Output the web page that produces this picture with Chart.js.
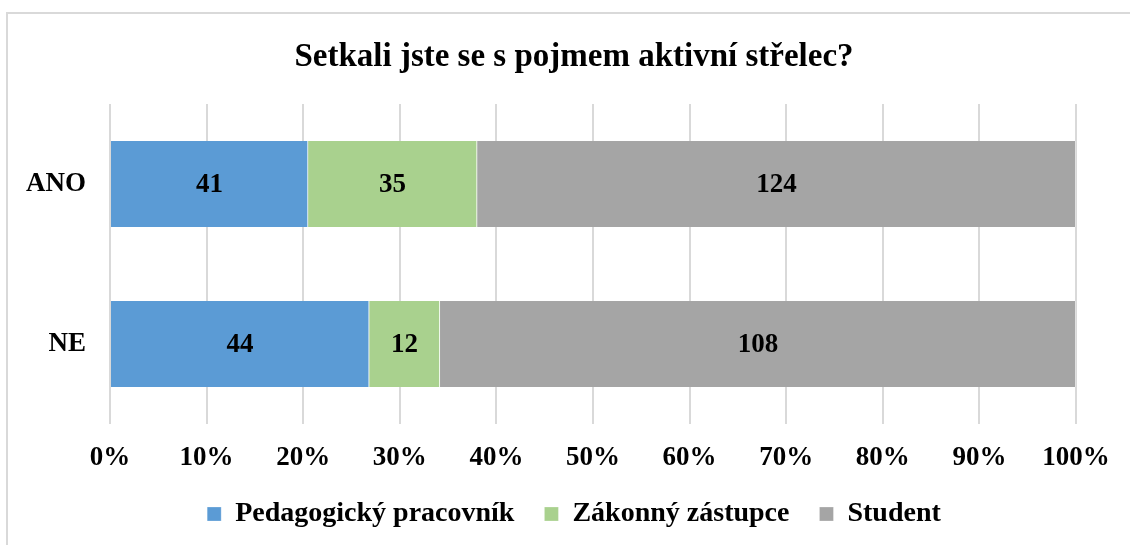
<!DOCTYPE html>
<html>
<head>
<meta charset="utf-8">
<script src="https://cdn.jsdelivr.net/npm/chart.js@4"></script>
<style>
    body { margin: 0; background: #fff; overflow: hidden; }
    #frame {
        position: absolute; left: 6px; top: 12px;
        width: 1200px; height: 600px;
        border-left: 2px solid #d9d9d9; border-top: 2px solid #d9d9d9;
    }
    #chart { position: absolute; left: 0; top: 0; }
</style>
</head>
<body>
<div id="frame"></div>
<canvas id="chart" width="1130" height="545"></canvas>
<script>
// Data
const categories = ['ANO', 'NE'];
const seriesNames = ['Pedagogický pracovník', 'Zákonný zástupce', 'Student'];
const pedagog = [41, 44];
const zastupce = [35, 12];
const student = [124, 108];
const xTicks = [0, 10, 20, 30, 40, 50, 60, 70, 80, 90, 100];

const colors = ['#5b9bd5', '#a9d18e', '#a5a5a5'];
const fontFamily = '"Liberation Serif", "Times New Roman", serif';
const labelFont = 'bold 27px ' + fontFamily;

const counts = [pedagog, zastupce, student];
const totals = categories.map((c, i) => counts.reduce((s, arr) => s + arr[i], 0));

const canvas = document.getElementById('chart');

// widest category label, so mirrored y labels can end 24px left of the plot
const measureCtx = canvas.getContext('2d');
measureCtx.font = labelFont;
const widestCat = Math.max(...categories.map(c => measureCtx.measureText(c).width));

// Draw the raw counts in the middle of each bar segment
const valueLabels = {
    id: 'valueLabels',
    afterDatasetsDraw(chart) {
        const ctx = chart.ctx;
        ctx.save();
        ctx.font = labelFont;
        ctx.fillStyle = '#000';
        ctx.textAlign = 'center';
        ctx.textBaseline = 'middle';
        chart.data.datasets.forEach((ds, di) => {
            const meta = chart.getDatasetMeta(di);
            meta.data.forEach((bar, i) => {
                const x = (bar.x + bar.base) / 2;
                ctx.fillText(String(ds.counts[i]), x, bar.y + 1);
            });
        });
        ctx.restore();
    }
};

new Chart(canvas, {
    type: 'bar',
    data: {
        labels: categories,
        datasets: seriesNames.map((name, k) => ({
            label: name,
            counts: counts[k],
            data: counts[k].map((v, i) => v / totals[i] * 100),
            backgroundColor: colors[k],
            borderColor: '#ffffff',
            borderWidth: { left: 0, right: 1, top: 0, bottom: 0 },
            borderSkipped: false,
            barThickness: 86
        }))
    },
    options: {
        indexAxis: 'y',
        responsive: false,
        animation: false,
        layout: { padding: { left: 72, right: 54, top: 0, bottom: 7 } },
        plugins: {
            title: {
                display: true,
                text: 'Setkali jste se s pojmem aktivní střelec?',
                color: '#000',
                font: { family: fontFamily, size: 33, weight: 'bold' },
                padding: { top: 38, bottom: 26.4 }
            },
            legend: {
                position: 'bottom',
                labels: {
                    color: '#000',
                    font: { family: fontFamily, size: 28, weight: 'bold' },
                    boxWidth: 14,
                    boxHeight: 14,
                    padding: 30
                }
            },
            tooltip: { enabled: false }
        },
        scales: {
            x: {
                stacked: true,
                min: 0,
                max: 100,
                afterBuildTicks: (scale) => { scale.ticks = xTicks.map(v => ({ value: v })); },
                afterFit: (scale) => { scale.height = 46; },
                ticks: {
                    color: '#000',
                    font: { family: fontFamily, size: 27, weight: 'bold' },
                    padding: 18,
                    maxRotation: 0,
                    callback: (value) => value + '%'
                },
                grid: { color: '#d9d9d9', lineWidth: 2, drawTicks: false },
                border: { display: false }
            },
            y: {
                stacked: true,
                afterFit: (scale) => { scale.width = 38; },
                ticks: {
                    color: '#000',
                    font: { family: fontFamily, size: 27, weight: 'bold' },
                    mirror: true,
                    crossAlign: 'far',
                    padding: -(24 + widestCat)
                },
                grid: { display: false, drawTicks: false },
                border: { display: false }
            }
        }
    },
    plugins: [valueLabels]
});
</script>
</body>
</html>
